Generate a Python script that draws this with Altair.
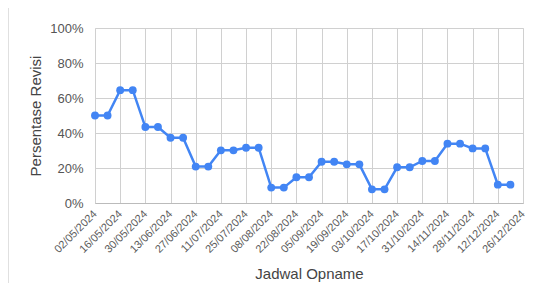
import altair as alt
import pandas as pd

# Point dates (weekly) and values
dates = ["2024-05-02", "2024-05-09", "2024-05-16", "2024-05-23", "2024-05-30",
         "2024-06-06", "2024-06-13", "2024-06-20", "2024-06-27", "2024-07-04",
         "2024-07-11", "2024-07-18", "2024-07-25", "2024-08-01", "2024-08-08",
         "2024-08-15", "2024-08-22", "2024-08-29", "2024-09-05", "2024-09-12",
         "2024-09-19", "2024-09-26", "2024-10-03", "2024-10-10", "2024-10-17",
         "2024-10-24", "2024-10-31", "2024-11-07", "2024-11-14", "2024-11-21",
         "2024-11-28", "2024-12-05", "2024-12-12", "2024-12-19"]
values = [0.50, 0.50, 0.645, 0.645, 0.434, 0.434, 0.373, 0.373, 0.208, 0.208,
          0.301, 0.301, 0.316, 0.316, 0.088, 0.088, 0.147, 0.147, 0.236, 0.236,
          0.221, 0.221, 0.078, 0.078, 0.204, 0.204, 0.240, 0.240, 0.339, 0.339,
          0.312, 0.312, 0.105, 0.105]

# Axis tick dates (every two weeks)
tick_dates = ["2024-05-02", "2024-05-16", "2024-05-30", "2024-06-13", "2024-06-27",
              "2024-07-11", "2024-07-25", "2024-08-08", "2024-08-22", "2024-09-05",
              "2024-09-19", "2024-10-03", "2024-10-17", "2024-10-31", "2024-11-14",
              "2024-11-28", "2024-12-12", "2024-12-26"]
y_ticks = [0, 0.2, 0.4, 0.6, 0.8, 1.0]

df = pd.DataFrame({"date": dates, "value": values})
tick_ms = [int(pd.Timestamp(d, tz="UTC").timestamp() * 1000) for d in tick_dates]

FONT = "Liberation Sans"
BLUE = "#4285F4"

x_enc = alt.X(
    "date:T",
    scale=alt.Scale(type="utc", domain=[tick_ms[0], tick_ms[-1]], nice=False),
    axis=alt.Axis(
        values=tick_ms, labelExpr="utcFormat(datum.value, '%d/%m/%Y')",
        labelAngle=-45, labelAlign="right", labelBaseline="middle",
        labelPadding=9, labelFontSize=11, labelColor="#5a5a5a", labelFont=FONT,
        ticks=False, domain=True, domainColor="#bbbbbb",
        grid=True, gridColor="#d0d0d0", labelOverlap=False,
        title="Jadwal Opname", titleFont=FONT, titleFontSize=15,
        titleFontWeight="normal", titleColor="#444444",
        titleX=214, titleY=70, titleAlign="center", titleBaseline="middle",
    ),
)
y_enc = alt.Y(
    "value:Q",
    scale=alt.Scale(domain=[0, 1], nice=False),
    axis=alt.Axis(
        values=y_ticks, format=".0%", labelFontSize=13, labelColor="#555555",
        labelFont=FONT, labelPadding=12, ticks=False, domain=False,
        grid=True, gridColor="#d0d0d0",
        title="Persentase Revisi", titleFont=FONT, titleFontSize=15,
        titleFontWeight="normal", titleColor="#444444",
        titleX=-60, titleY=87.5, titleAlign="center", titleBaseline="middle",
        titleAngle=-90,
    ),
)

line = alt.Chart(df).mark_line(color=BLUE, strokeWidth=2.5).encode(x=x_enc, y=y_enc)
points = alt.Chart(df).mark_circle(color=BLUE, size=62, opacity=1).encode(x=x_enc, y=y_enc)

border = alt.Chart(df).mark_rule(color="#e0e0e0", strokeWidth=1).encode(
    x=alt.value(-86.5), y=alt.value(-20), y2=alt.value(255)
)

chart = alt.layer(border, line, points).properties(
    width=428, height=175,
    autosize=alt.AutoSizeParams(type="none"),
    padding={"left": 87, "top": 20, "right": 11, "bottom": 80},
).configure_view(stroke=None).configure(background="white")

chart.save("out.html", embed_options={"renderer": "svg", "actions": False})
